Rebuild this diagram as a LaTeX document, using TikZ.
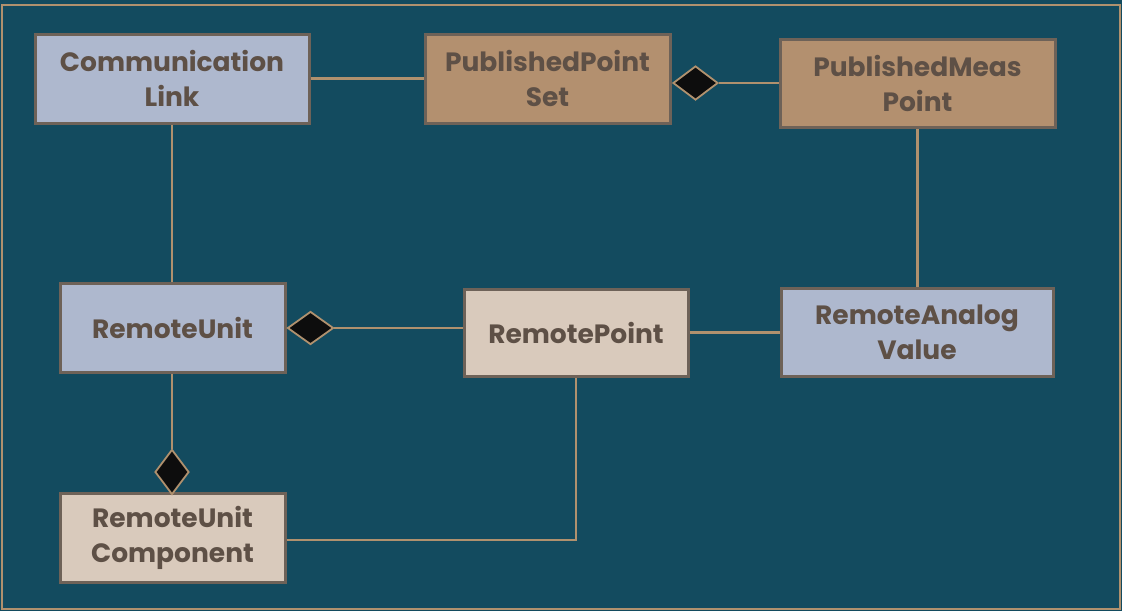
\documentclass[tikz,border=0pt]{standalone}
\usepackage{fontspec}
\setmainfont{Poppins}
\usetikzlibrary{shapes.geometric}
\definecolor{bg}{HTML}{134B5F}
\definecolor{frame}{HTML}{B0916E}
\definecolor{edge}{HTML}{6E6258}
\definecolor{txt}{HTML}{5E5046}
\definecolor{blue}{HTML}{AEB8CE}
\definecolor{tan}{HTML}{B3906F}
\definecolor{beige}{HTML}{D9CABC}
\tikzset{
  cls/.style={draw=edge, line width=3pt, inner sep=0pt, align=center,
    font=\fontsize{26.5}{35}\selectfont\bfseries, text=txt},
  conn/.style={draw=frame, line width=2.4pt},
  dia/.style={diamond, draw=frame, fill=black!95, line width=1.8pt, inner sep=0pt}
}
\begin{document}
\begin{tikzpicture}[x=1pt,y=-1pt]
\fill[bg] (0,0) rectangle (1122,611);
\useasboundingbox (0,0) rectangle (1122,611);
\draw[frame, line width=2.4pt] (2,5) rectangle (1120,609);

\node[cls, fill=blue, minimum width=274, minimum height=89] (cl) at (172,78.5) {Communication\\Link};
\node[cls, fill=tan, minimum width=245, minimum height=89] (pps) at (547.5,78.5) {PublishedPoint\\Set};
\node[cls, fill=tan, minimum width=275, minimum height=88] (pmp) at (917.5,83) {PublishedMeas\\Point};
\node[cls, fill=blue, minimum width=225, minimum height=89] (ru) at (172.5,327.5) {RemoteUnit};
\node[cls, fill=beige, minimum width=224, minimum height=87] (rp) at (576,332.5) {RemotePoint};
\node[cls, fill=blue, minimum width=272, minimum height=88] (rav) at (917,332) {RemoteAnalog\\Value};
\node[cls, fill=beige, minimum width=225, minimum height=89] (ruc) at (172.5,537.5) {RemoteUnit\\Component};

\node[dia, minimum width=45, minimum height=34] (d1) at (695.5,83) {};
\node[dia, minimum width=46, minimum height=33] (d2) at (310.5,328) {};
\node[dia, minimum width=34, minimum height=45] (d3) at (172,472) {};
\coordinate (bend) at (576,540);

\draw[conn] (cl.east) -- (pps.west);
\draw[conn] (d1.east) -- (pmp.west |- d1.east);
\draw[conn] (pmp.south) -- (rav.north -| pmp.south);
\draw[conn] (cl.south) -- (ru.north -| cl.south);
\draw[conn] (d2.east) -- (rp.west |- d2.east);
\draw[conn] (rp.east) -- (rav.west |- rp.east);
\draw[conn] (ru.south -| d3.north) -- (d3.north);
\draw[conn] (ruc.east |- bend) -- (bend) -- (rp.south -| bend);
\end{tikzpicture}
\end{document}
